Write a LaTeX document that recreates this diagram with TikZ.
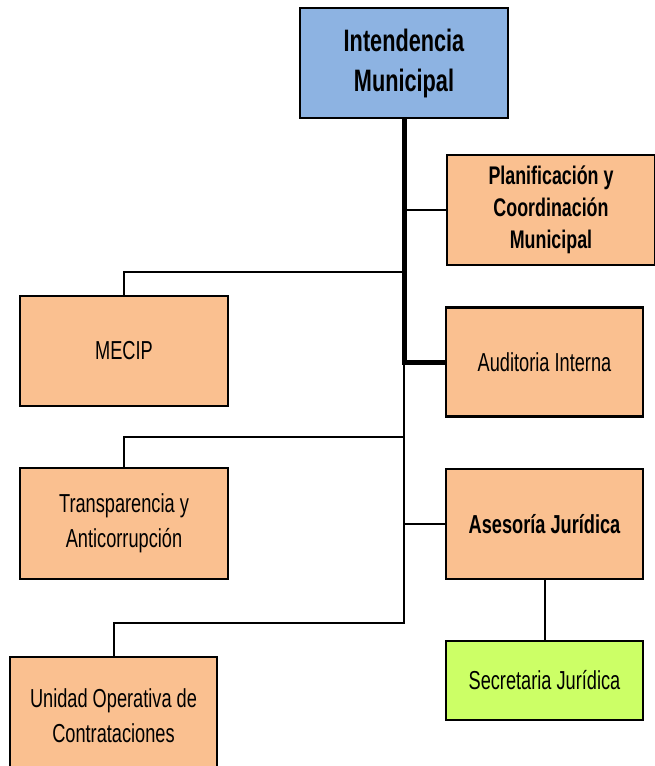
\documentclass[tikz,border=0pt]{standalone}
\usepackage{fontspec}
\setmainfont{Liberation Sans}[FakeStretch=0.7]
\definecolor{boxorange}{HTML}{FAC090}
\definecolor{boxblue}{HTML}{8DB3E2}
\definecolor{boxgreen}{HTML}{CCFF66}
\tikzset{
  unitbox/.style={draw=black, line width=2.5pt, fill=boxorange, align=center, inner sep=0pt},
  regtext/.style={font=\fontsize{26}{35}\selectfont},
  boldtext/.style={font=\fontsize{26}{35}\selectfont\bfseries},
  conn/.style={line width=2pt, draw=black},
  thickconn/.style={line width=5pt, draw=black},
}
\begin{document}
\begin{tikzpicture}[x=1pt,y=-1pt]
\useasboundingbox (0,0) rectangle (655,766);
\clip (0,0) rectangle (655,766);
\fill[white] (0,0) rectangle (655,766);

\node[unitbox, fill=boxblue, minimum width=208pt, minimum height=110pt,
  font=\fontsize{31}{40}\selectfont\bfseries] (top) at (404,63) {Intendencia\\Municipal};
\node[unitbox, minimum width=208pt, minimum height=110pt,
  font=\fontsize{25.5}{32}\selectfont\bfseries] (plan) at (551,210) {\raisebox{-4pt}{\parbox{200pt}{\centering Planificación y\\Coordinación\\Municipal}}};
\node[unitbox, regtext, minimum width=208pt, minimum height=110pt] (mecip) at (124,351) {MECIP};
\node[unitbox, regtext, minimum width=197pt, minimum height=109pt] (aud) at (544.5,362) {Auditoria Interna};
\node[unitbox, regtext, minimum width=208pt, minimum height=111pt] (trans) at (124,523.5) {\raisebox{-4pt}{\parbox{200pt}{\centering Transparencia y\\Anticorrupción}}};
\node[unitbox, boldtext, minimum width=197pt, minimum height=110pt] (ases) at (544.5,524) {Asesoría Jurídica};
\node[unitbox, regtext, fill=boxgreen, minimum width=197pt, minimum height=79pt] (sec) at (544.5,680.5) {Secretaria Jurídica};
\node[unitbox, regtext, minimum width=207pt, minimum height=118pt] (unid) at (113.5,716) {Unidad Operativa de\\Contrataciones};

\coordinate (cP) at (404,210);
\coordinate (cM) at (404,272);
\coordinate (cA) at (404,362);
\coordinate (cT) at (404,437);
\coordinate (cJ) at (404,524);
\coordinate (cU) at (404,623);

\draw[conn] (cA) -- (cU) -| (unid.north);
\draw[conn] (cP) -- (plan.west);
\draw[conn] (cM) -| (mecip.north);
\draw[conn] (cT) -| (trans.north);
\draw[conn] (cJ) -- (ases.west);
\draw[conn] (ases.south) -- (sec.north);
\draw[thickconn] (top.south) -- (cA) -- (aud.west);
\end{tikzpicture}
\end{document}
